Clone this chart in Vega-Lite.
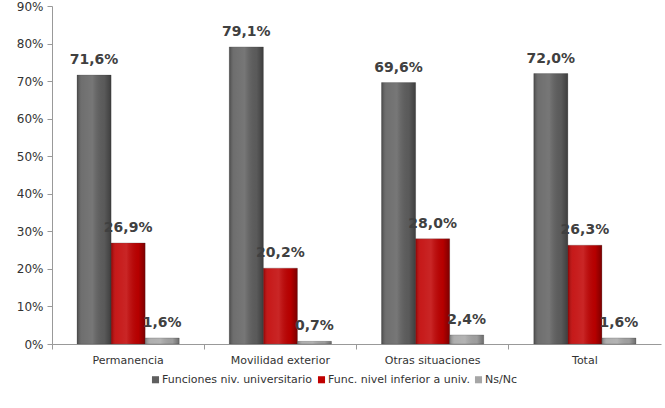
{
  "$schema": "https://vega.github.io/schema/vega-lite/v6.json",
  "width": 609,
  "height": 338,
  "autosize": {"type": "none"},
  "padding": {"left": 52, "top": 6, "right": 4, "bottom": 64},
  "background": "white",
  "config": {
    "locale": {"number": {"decimal": ",", "thousands": ".", "grouping": [3], "currency": ["", " €"]}},
    "view": {"stroke": null},
    "font": "DejaVu Sans"
  },
  "data": {
    "values": [
      {"cat": "Permanencia", "serie": "Funciones niv. universitario", "v": 0.716},
      {"cat": "Permanencia", "serie": "Func. nivel inferior a univ.", "v": 0.269},
      {"cat": "Permanencia", "serie": "Ns/Nc", "v": 0.016},
      {"cat": "Movilidad exterior", "serie": "Funciones niv. universitario", "v": 0.791},
      {"cat": "Movilidad exterior", "serie": "Func. nivel inferior a univ.", "v": 0.202},
      {"cat": "Movilidad exterior", "serie": "Ns/Nc", "v": 0.007},
      {"cat": "Otras situaciones", "serie": "Funciones niv. universitario", "v": 0.696},
      {"cat": "Otras situaciones", "serie": "Func. nivel inferior a univ.", "v": 0.28},
      {"cat": "Otras situaciones", "serie": "Ns/Nc", "v": 0.024},
      {"cat": "Total", "serie": "Funciones niv. universitario", "v": 0.72},
      {"cat": "Total", "serie": "Func. nivel inferior a univ.", "v": 0.263},
      {"cat": "Total", "serie": "Ns/Nc", "v": 0.016}
    ]
  },
  "encoding": {
    "x": {
      "field": "cat", "type": "nominal", "sort": null,
      "scale": {"paddingInner": 0, "paddingOuter": 0},
      "axis": {
        "title": null, "labelAngle": 0, "labelFontSize": 11, "labelColor": "#333333",
        "domainColor": "#999999", "tickColor": "#999999", "tickSize": 5,
        "bandPosition": 0, "labelPadding": 5
      }
    },
    "xOffset": {
      "field": "serie", "type": "nominal", "sort": null,
      "scale": {"paddingInner": 0, "paddingOuter": 0.735}
    },
    "y": {
      "field": "v", "type": "quantitative",
      "scale": {"domain": [0, 0.9]},
      "axis": {
        "title": null, "format": ".0%", "values": [0, 0.1, 0.2, 0.3, 0.4, 0.5, 0.6, 0.7, 0.8, 0.9],
        "grid": false, "labelFontSize": 12, "labelColor": "#333333",
        "domainColor": "#999999", "tickColor": "#999999", "tickSize": 5, "labelPadding": 4
      }
    }
  },
  "layer": [
    {
      "mark": {"type": "bar", "stroke": "#3a3a3a", "strokeWidth": 0.5, "strokeOpacity": 0.5},
      "encoding": {
        "color": {
          "field": "serie", "type": "nominal", "sort": null,
          "scale": {
            "domain": ["Funciones niv. universitario", "Func. nivel inferior a univ.", "Ns/Nc"],
            "range": ["#5f5f5f", "#c00000", "#a6a6a6"]
          },
          "legend": {
            "title": null, "orient": "none", "direction": "horizontal",
            "legendX": 98, "legendY": 368,
            "symbolType": "square", "symbolSize": 50, "symbolStrokeWidth": 0,
            "labelFontSize": 11, "labelColor": "#333333", "columnPadding": 3,
            "symbolOffset": 0, "labelOffset": 1
          }
        }
      }
    },
    {
      "mark": {
        "type": "bar",
        "fill": {
          "gradient": "linear", "x1": 0, "y1": 0, "x2": 1, "y2": 0,
          "stops": [
            {"offset": 0, "color": "rgba(0,0,0,0.25)"},
            {"offset": 0.15, "color": "rgba(255,255,255,0.1)"},
            {"offset": 0.45, "color": "rgba(255,255,255,0.15)"},
            {"offset": 0.8, "color": "rgba(0,0,0,0.05)"},
            {"offset": 1, "color": "rgba(0,0,0,0.35)"}
          ]
        }
      },
      "encoding": {}
    },
    {
      "mark": {"type": "text", "dy": -8, "baseline": "bottom", "fontWeight": "bold", "fontSize": 14, "color": "#404040"},
      "encoding": {
        "text": {"field": "v", "type": "quantitative", "format": ".1%"}
      }
    }
  ]
}
